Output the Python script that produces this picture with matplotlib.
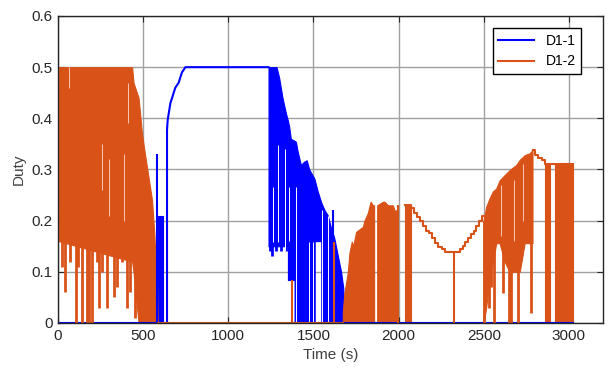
import matplotlib
matplotlib.use("Agg")
import matplotlib.pyplot as plt

plt.rcParams['font.family'] = ['Liberation Sans', 'DejaVu Sans']

BLUE = "#0000ff"
ORANGE = "#d95319"

# ---- D1-1 (blue) ----
blue_spike_t = [581]
blue_spike_y = [0.33]
blue_block_t = [589, 619]
blue_block_y = [0.21, 0.21]
# smooth rise to saturation
blue_rise_t = [619, 640, 640, 644, 660, 670, 679, 689, 709, 718, 728, 748, 1236]
blue_rise_y = [0.0, 0.0, 0.377, 0.397, 0.43, 0.44, 0.45, 0.46, 0.47, 0.48, 0.49, 0.50, 0.50]
# dense oscillation band (top / bottom of the band)
blue_band_t = [1236, 1283, 1298, 1318, 1338, 1350, 1350, 1357, 1367, 1389, 1389, 1397, 1407, 1426,
               1444, 1460, 1475, 1504, 1507, 1507, 1525, 1544, 1546, 1546, 1564, 1583, 1603, 1622,
               1642, 1662, 1675, 1681]
blue_band_top = [0.5, 0.5, 0.48, 0.44, 0.41, 0.395, 0.395, 0.384, 0.36, 0.356, 0.356, 0.354, 0.335, 0.309,
                 0.315, 0.318, 0.30, 0.283, 0.28, 0.28, 0.257, 0.237, 0.235, 0.235, 0.221, 0.211, 0.186, 0.166,
                 0.133, 0.10, 0.068, 0.0]
blue_band_low = [0.15, 0.15, 0.15, 0.15, 0.15, 0.15, 0.084, 0.084, 0.084, 0.084, 0.0, 0.0, 0.0, 0.0,
                 0.0, 0.0, 0.0, 0.0, 0.0, 0.16, 0.16, 0.16, 0.16, 0.0, 0.0, 0.0, 0.0, 0.0,
                 0.0, 0.0, 0.0, 0.0]
blue_dip_t = [1246, 1258, 1280, 1312, 1340]
blue_dip_y = [0.14, 0.13, 0.14, 0.14, 0.14]
blue_extra_t = [1613]
blue_extra_y = [0.22]
blue_gap_t = [1265, 1294, 1330, 1355, 1398, 1471, 1497, 1552, 1585]
blue_gap_low = [0.159, 0.159, 0.14, 0.16, 0.0, 0.0, 0.0, 0.0, 0.0]
blue_gap_high = [0.266, 0.348, 0.34, 0.266, 0.266, 0.159, 0.159, 0.22, 0.21]
blue_zero_t = [0, 581, 1681, 3026]

# ---- D1-2 (orange) ----
# start-up oscillation 0..585 s
or_a_t = [0, 5, 435, 443, 473, 493, 506, 522, 552, 565, 581, 585]
or_a_top = [0.36, 0.50, 0.50, 0.47, 0.44, 0.37, 0.34, 0.305, 0.24, 0.176, 0.078, 0.0]
or_a_low = [0.36, 0.16, 0.12, 0.10, 0.0, 0.0, 0.0, 0.0, 0.0, 0.0, 0.0, 0.0]
or_a_dip_t = [25, 41, 71, 106, 120, 139, 169, 179, 198, 228, 238, 259, 287, 326, 346, 375, 405, 424, 454]
or_a_dip_y = [0.11, 0.06, 0.12, 0.0, 0.11, 0.0, 0.0, 0.0, 0.0, 0.12, 0.03, 0.10, 0.03, 0.05, 0.07,
              0.12, 0.03, 0.06, 0.01]
or_a_gap_t = [66, 257, 297, 385, 410]
or_a_gap_low = [0.46, 0.26, 0.21, 0.20, 0.39]
or_a_gap_high = [0.50, 0.35, 0.32, 0.33, 0.47]
# zero segment with spikes
or_zero_t = [585, 1672]
or_spike_t = [1373, 1619, 1998]
or_spike_y = [0.084, 0.159, 0.23]
# second oscillation (solid down to zero)
or_c1_t = [1672, 1681, 1701, 1711, 1725, 1733, 1750, 1790, 1799, 1819, 1835, 1849, 1856]
or_c1_top = [0.02, 0.058, 0.098, 0.137, 0.159, 0.15, 0.178, 0.188, 0.20, 0.215, 0.237, 0.23, 0.23]
or_c2_t = [1874, 1908, 1917, 1937, 1966, 1976, 1992]
or_c2_top = [0.23, 0.237, 0.237, 0.23, 0.23, 0.22, 0.22]
or_c3_t = [2039, 2074]
or_c3_top = [0.23, 0.23]
# staircase valley
or_stair_t = [2039, 2074, 2090, 2108, 2126, 2144, 2162, 2180, 2198, 2216, 2234, 2252, 2271,
              2359, 2375, 2391, 2408, 2424, 2440, 2456, 2472, 2488, 2499]
or_stair_y = [0.23, 0.225, 0.215, 0.208, 0.20, 0.19, 0.18, 0.175, 0.166, 0.157, 0.149, 0.145, 0.139,
              0.145, 0.15, 0.158, 0.166, 0.173, 0.18, 0.19, 0.20, 0.21, 0.21]
or_valley_dip_t = [2326]
or_valley_dip_y = [0.139]
# third oscillation 2499..2786 s
or_d_t = [2499, 2514, 2534, 2553, 2573, 2593, 2622, 2652, 2691, 2711, 2740, 2770, 2786]
or_d_top = [0.201, 0.227, 0.244, 0.257, 0.263, 0.279, 0.289, 0.299, 0.309, 0.319, 0.328, 0.332, 0.338]
or_d_low = [0.0, 0.03, 0.09, 0.12, 0.156, 0.156, 0.12, 0.10, 0.10, 0.10, 0.156, 0.156, 0.156]
or_d_dip_t = [2503, 2530, 2545, 2558, 2612, 2648, 2660, 2700, 2777]
or_d_dip_y = [0.0, 0.03, 0.07, 0.0, 0.058, 0.0, 0.0, 0.0, 0.02]
or_d_gap_t = [2600, 2680, 2730]
or_d_gap_low = [0.17, 0.16, 0.20]
or_d_gap_high = [0.27, 0.28, 0.31]
# plateau
or_e_t = [2786, 2799, 2819, 2839, 2858, 3026]
or_e_y = [0.338, 0.328, 0.322, 0.319, 0.311, 0.31]
or_f_segs = [(2858, 2888), (2917, 3026)]
or_f_top = 0.31

fig = plt.figure(figsize=(6.14, 3.71), dpi=100)
ax = fig.add_axes([0.0945, 0.1294, 0.8876, 0.8275])

lw = 1.5
dip_lw = 2.0
band = dict(lw=0.8)

# blue series
ax.plot(blue_zero_t[:2], [0, 0], color=BLUE, lw=lw)
ax.plot(blue_zero_t[2:], [0, 0], color=BLUE, lw=lw)
ax.vlines(blue_spike_t, 0, blue_spike_y, color=BLUE, lw=lw)
ax.fill_between(blue_block_t, 0, blue_block_y, color=BLUE, edgecolor=BLUE, **band)
ax.plot(blue_rise_t, blue_rise_y, color=BLUE, lw=lw, label="D1-1")
ax.fill_between(blue_band_t, blue_band_low, blue_band_top, color=BLUE, edgecolor=BLUE, **band)
ax.vlines(blue_dip_t, blue_dip_y, 0.3, color=BLUE, lw=dip_lw)
ax.vlines(blue_extra_t, 0, blue_extra_y, color=BLUE, lw=lw)
ax.vlines(blue_gap_t, blue_gap_low, blue_gap_high, color="white", lw=0.7)

# orange series
ax.fill_between(or_a_t, or_a_low, or_a_top, color=ORANGE, edgecolor=ORANGE, **band)
ax.vlines(or_a_dip_t, or_a_dip_y, 0.3, color=ORANGE, lw=dip_lw)
ax.vlines(or_a_gap_t, or_a_gap_low, or_a_gap_high, color="#f6c9b4", lw=0.7)
ax.plot(or_zero_t, [0, 0], color=ORANGE, lw=lw)
ax.vlines(or_spike_t, 0, or_spike_y, color=ORANGE, lw=lw)
for tt, top in [(or_c1_t, or_c1_top), (or_c2_t, or_c2_top), (or_c3_t, or_c3_top)]:
    ax.fill_between(tt, 0, top, color=ORANGE, edgecolor=ORANGE, **band)
ax.plot(or_stair_t, or_stair_y, drawstyle="steps-post", color=ORANGE, lw=lw, label="D1-2")
ax.vlines(or_valley_dip_t, 0, or_valley_dip_y, color=ORANGE, lw=lw)
ax.fill_between(or_d_t, or_d_low, or_d_top, color=ORANGE, edgecolor=ORANGE, **band)
ax.vlines(or_d_dip_t, or_d_dip_y, 0.2, color=ORANGE, lw=dip_lw)
ax.vlines(or_d_gap_t, or_d_gap_low, or_d_gap_high, color="#f6c9b4", lw=0.7)
ax.plot(or_e_t, or_e_y, drawstyle="steps-post", color=ORANGE, lw=lw)
for t0, t1 in or_f_segs:
    ax.fill_between([t0, t1], 0, [or_f_top, or_f_top], color=ORANGE, edgecolor=ORANGE, **band)

ax.set_xlim(0, 3200)
ax.set_ylim(0, 0.6)
ax.set_xticks([0, 500, 1000, 1500, 2000, 2500, 3000])
ax.set_yticks([0, 0.1, 0.2, 0.3, 0.4, 0.5, 0.6])
ax.set_yticklabels(["0", "0.1", "0.2", "0.3", "0.4", "0.5", "0.6"])
ax.grid(True, color="#a0a0a0", lw=1.0)
ax.set_axisbelow(True)
ax.tick_params(direction="in", length=4, top=True, right=True, labelsize=11,
               colors="#262626", pad=4)
for s in ax.spines.values():
    s.set_color("#262626")
    s.set_linewidth(1.0)
ax.set_xlabel("Time (s)", fontsize=11, color="#404040", labelpad=4)
ax.set_ylabel("Duty", fontsize=11, color="#404040", labelpad=4)

leg = ax.legend(loc="upper right", bbox_to_anchor=(0.96, 0.961), borderaxespad=0,
                fancybox=False, fontsize=10, handlelength=2.6, framealpha=1)
leg.get_frame().set_edgecolor("black")
leg.get_frame().set_linewidth(1.0)

fig.savefig("out.png", dpi=100)
